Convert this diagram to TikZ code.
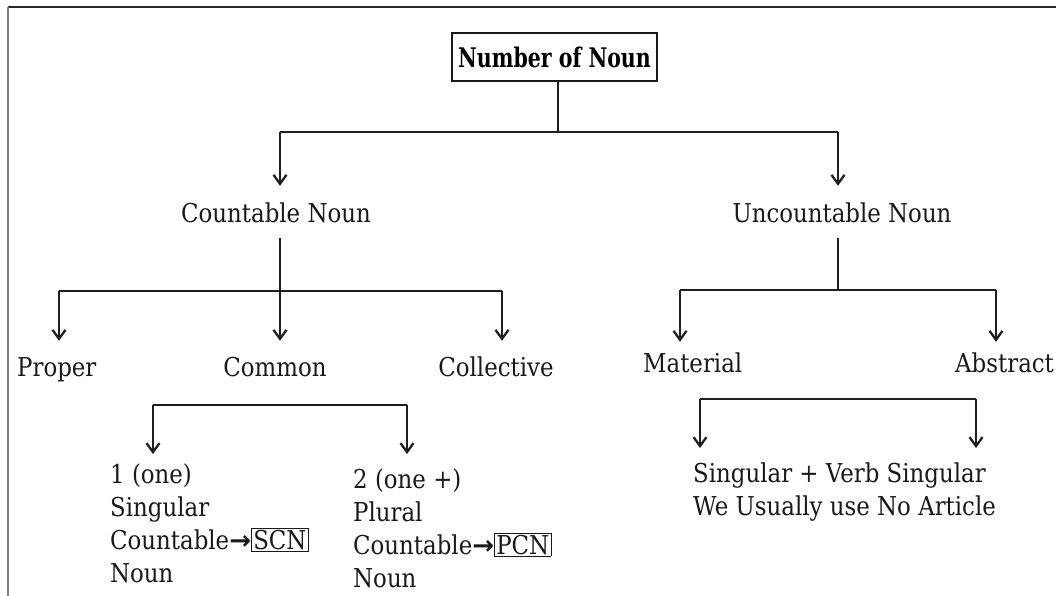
\documentclass[tikz,border=0pt]{standalone}
\usepackage{fontspec}
\setmainfont{DejaVu Serif}[FakeStretch=0.88]
\newfontfamily\ttlfont{DejaVu Serif}[FakeStretch=0.76]
\newfontfamily\arrfont{DejaVu Sans}
\usetikzlibrary{arrows.meta}
\newcommand{\rarr}{{\arrfont\bfseries →}}
\newcommand{\abox}[1]{{\fboxsep=1.5pt\fboxrule=0.7pt\fbox{#1}}}
\begin{document}
\begin{tikzpicture}[x=1pt,y=-1pt,
  ln/.style={line width=2.3pt, draw=black!88},
  arr/.style={ln, -{Straight Barb[length=9pt,width=13pt]}},
  lbl/.style={inner sep=0pt, font=\fontsize{26}{33}\selectfont, text height=18pt, text depth=5pt, text=black!90},
  blk/.style={inner sep=0pt, align=left, font=\fontsize{26}{33}\selectfont, text=black!90},
  ttl/.style={draw=black!90, line width=2.5pt, inner sep=0pt, minimum width=205pt, minimum height=48pt,
    font=\ttlfont\bfseries\fontsize{27}{30}\selectfont}
]
\useasboundingbox (0,0) rectangle (1056,596);
% frame
\draw[line width=1.5pt, black!85] (8,7) -- (1056,7);
\draw[line width=2pt, black!50] (8,7) -- (8,596);

% nodes
\node[ttl] (title) at (554.5,57) {Number of Noun};
\node[lbl, anchor=base] (cn) at (276,222) {Countable Noun};
\node[lbl, anchor=base] (un) at (842,222) {Uncountable Noun};
\node[lbl, anchor=base west] (proper) at (17,376) {Proper};
\node[lbl, anchor=base] (common) at (275,376) {Common};
\node[lbl, anchor=base] (collective) at (496,376) {Collective};
\node[lbl, anchor=base west] (material) at (643,372) {Material};
\node[lbl, anchor=base west] (abstract) at (955,372) {Abstract};
\node[blk, anchor=base west] (one) at (110,582)
  {1 (one)\\Singular\\Countable\rarr\abox{SCN}\\Noun};
\node[blk, anchor=base west] (two) at (353,587)
  {2 (one +)\\Plural\\Countable\rarr\abox{PCN}\\Noun};
\node[blk, anchor=base west] (verb) at (693,515)
  {Singular + Verb Singular\\We Usually use No Article};

% junction coordinates
\coordinate (j1) at (558,132);
\coordinate (j1l) at (280,132);
\coordinate (j1r) at (838,132);
\coordinate (j2) at (280,291);
\coordinate (j2l) at (59,291);
\coordinate (j2r) at (502,291);
\coordinate (j3) at (838,290);
\coordinate (j3l) at (680,290);
\coordinate (j3r) at (996,290);
\coordinate (b1l) at (153,405);
\coordinate (b1r) at (407,405);
\coordinate (b2l) at (700,399);
\coordinate (b2r) at (976,399);

% connectors
\draw[ln] (title.south -| j1) -- (j1);
\draw[ln] (j1l) -- (j1r);
\draw[arr, shorten >=18pt] (j1l) -- (j1l |- cn.north);
\draw[arr, shorten >=18pt] (j1r) -- (j1r |- un.north);

\draw[ln, shorten <=11pt] (cn.south -| j2) -- (j2);
\draw[ln] (j2l) -- (j2r);
\draw[arr, shorten >=17pt] (j2l) -- (j2l |- proper.north);
\draw[arr, shorten >=17pt] (j2) -- (j2 |- common.north);
\draw[arr, shorten >=17pt] (j2r) -- (j2r |- collective.north);

\draw[ln, shorten <=11pt] (un.south -| j3) -- (j3);
\draw[ln] (j3l) -- (j3r);
\draw[arr, shorten >=12pt] (j3l) -- (j3l |- material.north);
\draw[arr, shorten >=12pt] (j3r) -- (j3r |- abstract.north);

\draw[ln] (b1l) -- (b1r);
\draw[arr, shorten >=9pt] (b1l) -- (b1l |- one.north);
\draw[arr, shorten >=14pt] (b1r) -- (b1r |- two.north);
\draw[ln] (b2l) -- (b2r);
\draw[arr, shorten >=14pt] (b2l) -- (b2l |- verb.north);
\draw[arr, shorten >=14pt] (b2r) -- (b2r |- verb.north);
\end{tikzpicture}
\end{document}
